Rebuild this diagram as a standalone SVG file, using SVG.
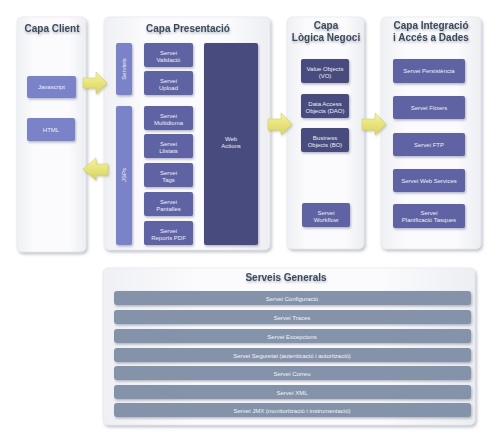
<svg xmlns="http://www.w3.org/2000/svg" width="500" height="447" viewBox="0 0 500 447">
<style>
.title{font-family:"Liberation Sans",Arial,sans-serif;font-weight:bold;font-size:10px;fill:#3b4a5c;text-anchor:middle;filter:url(#tshadow)}
.lbl{font-family:"Liberation Sans",Arial,sans-serif;font-size:6px;fill:#eceef8;text-anchor:middle}
.gl{font-family:"Liberation Sans",Arial,sans-serif;font-size:6px;fill:#f2f4f8;text-anchor:middle}
.panel{fill:url(#panelGrad);stroke:#e4e6ec;stroke-width:0.6;filter:url(#pshadow)}
.light{fill:#7a82c8;filter:url(#bshadow)}
.mid{fill:#5e64a3;filter:url(#bshadow)}
.dark{fill:#464b7d;filter:url(#bshadow)}
.bar{fill:#8593aa;filter:url(#bshadow)}
.arrow{fill:url(#yellow);stroke:#cfcb5c;stroke-width:0.5;filter:url(#ashadow)}
</style>
<defs>
<linearGradient id="panelGrad" x1="0" y1="0" x2="1" y2="0">
<stop offset="0" stop-color="#eff0f4"/>
<stop offset="0.25" stop-color="#fbfbfd"/>
<stop offset="0.75" stop-color="#fbfbfd"/>
<stop offset="1" stop-color="#eceef2"/>
</linearGradient>
<linearGradient id="yellow" x1="0" y1="0" x2="0" y2="1">
<stop offset="0" stop-color="#f4f2a6"/>
<stop offset="0.5" stop-color="#e8e47a"/>
<stop offset="1" stop-color="#d6d266"/>
</linearGradient>
<filter id="pshadow" x="-10%" y="-10%" width="130%" height="130%">
<feDropShadow dx="1.5" dy="2" stdDeviation="1.5" flood-color="#8a90a0" flood-opacity="0.55"/>
</filter>
<filter id="bshadow" x="-10%" y="-20%" width="130%" height="150%">
<feDropShadow dx="1" dy="1.5" stdDeviation="1" flood-color="#6a7088" flood-opacity="0.5"/>
</filter>
<filter id="ashadow" x="-20%" y="-20%" width="150%" height="150%">
<feDropShadow dx="1" dy="1.5" stdDeviation="1" flood-color="#9a9a70" flood-opacity="0.5"/>
</filter>
<filter id="tshadow" x="-10%" y="-30%" width="120%" height="180%">
<feDropShadow dx="0.5" dy="1.5" stdDeviation="1.2" flood-color="#7a8090" flood-opacity="0.6"/>
</filter>
</defs>

<g id="panel-client">
<rect class="panel" x="17" y="17" width="69" height="235" rx="5"/>
<text class="title" x="52" y="32">Capa Client</text>
</g>
<g id="panel-presentacio">
<rect class="panel" x="104" y="17" width="166" height="233" rx="5"/>
<text class="title" x="188" y="32">Capa Presentació</text>
</g>
<g id="panel-logica">
<rect class="panel" x="287" y="17" width="77" height="232" rx="5"/>
<text class="title" x="326" y="29">Capa</text>
<text class="title" x="326" y="41">Lògica Negoci</text>
</g>
<g id="panel-integracio">
<rect class="panel" x="381" y="17" width="100" height="232" rx="5"/>
<text class="title" x="431" y="29">Capa Integració</text>
<text class="title" x="431" y="41">i Accés a Dades</text>
</g>
<g id="panel-generals">
<rect class="panel" x="103" y="268" width="372" height="157" rx="5"/>
<text class="title" x="286" y="281">Serveis Generals</text>
</g>

<g id="javascript"><rect class="light" x="27" y="76" width="49" height="22" rx="2"/><text class="lbl" x="51.5" y="89">Javascript</text></g>
<g id="html"><rect class="light" x="27" y="118" width="48" height="23" rx="2"/><text class="lbl" x="51" y="131.5">HTML</text></g>

<g id="servlets"><rect class="light" x="116" y="43" width="16" height="52" rx="2"/><text class="lbl" transform="translate(126,69) rotate(-90)" x="0" y="0">Servlets</text></g>
<g id="jsps"><rect class="light" x="116" y="106" width="16" height="139" rx="2"/><text class="lbl" transform="translate(126,175) rotate(-90)" x="0" y="0">JSPs</text></g>

<g id="servei-validacio"><rect class="mid" x="144" y="43" width="49" height="24" rx="2"/><text class="lbl" x="168.5" y="54.5">Servei</text><text class="lbl" x="168.5" y="61.5">Validació</text></g>
<g id="servei-upload"><rect class="mid" x="144" y="71" width="49" height="24" rx="2"/><text class="lbl" x="168.5" y="82.5">Servei</text><text class="lbl" x="168.5" y="89.5">Upload</text></g>
<g id="servei-multidioma"><rect class="mid" x="144" y="106" width="49" height="24" rx="2"/><text class="lbl" x="168.5" y="117.5">Servei</text><text class="lbl" x="168.5" y="124.5">Multidioma</text></g>
<g id="servei-llistats"><rect class="mid" x="144" y="134" width="49" height="24" rx="2"/><text class="lbl" x="168.5" y="145.5">Servei</text><text class="lbl" x="168.5" y="152.5">Llistats</text></g>
<g id="servei-tags"><rect class="mid" x="144" y="163" width="49" height="24" rx="2"/><text class="lbl" x="168.5" y="174.5">Servei</text><text class="lbl" x="168.5" y="181.5">Tags</text></g>
<g id="servei-pantalles"><rect class="mid" x="144" y="192" width="49" height="24" rx="2"/><text class="lbl" x="168.5" y="203.5">Servei</text><text class="lbl" x="168.5" y="210.5">Pantalles</text></g>
<g id="servei-reports"><rect class="mid" x="144" y="221" width="49" height="24" rx="2"/><text class="lbl" x="168.5" y="232.5">Servei</text><text class="lbl" x="168.5" y="239.5">Reports PDF</text></g>

<g id="web-actions"><rect class="dark" x="204" y="43" width="54" height="202" rx="2"/><text class="lbl" x="231" y="141">Web</text><text class="lbl" x="231" y="148">Actions</text></g>

<g id="value-objects"><rect class="dark" x="301" y="59" width="48" height="24" rx="2"/><text class="lbl" x="325" y="70.5">Value Objects</text><text class="lbl" x="325" y="77.5">(VO)</text></g>
<g id="dao"><rect class="dark" x="301" y="94" width="48" height="24" rx="2"/><text class="lbl" x="325" y="105.5">Data Access</text><text class="lbl" x="325" y="112.5">Objects (DAO)</text></g>
<g id="business-objects"><rect class="dark" x="301" y="128" width="48" height="24" rx="2"/><text class="lbl" x="325" y="139.5">Business</text><text class="lbl" x="325" y="146.5">Objects (BO)</text></g>
<g id="servei-workflow"><rect class="mid" x="302" y="203" width="48" height="24" rx="2"/><text class="lbl" x="326" y="214.5">Servei</text><text class="lbl" x="326" y="221.5">Workflow</text></g>

<g id="servei-persistencia"><rect class="mid" x="393" y="59" width="72" height="24" rx="2"/><text class="lbl" x="429" y="73">Servei Persistència</text></g>
<g id="servei-fitxers"><rect class="mid" x="393" y="96" width="72" height="23" rx="2"/><text class="lbl" x="429" y="109.5">Servei Fitxers</text></g>
<g id="servei-ftp"><rect class="mid" x="393" y="133" width="72" height="23" rx="2"/><text class="lbl" x="429" y="146.5">Servei FTP</text></g>
<g id="servei-web-services"><rect class="mid" x="393" y="169" width="72" height="23" rx="2"/><text class="lbl" x="429" y="182.5">Servei Web Services</text></g>
<g id="servei-planificacio"><rect class="mid" x="393" y="204" width="72" height="24" rx="2"/><text class="lbl" x="429" y="215">Servei</text><text class="lbl" x="429" y="222">Planificació Tasques</text></g>

<g id="gen-configuracio"><rect class="bar" x="114" y="291" width="357" height="14" rx="3"/><text class="gl" x="292" y="300.5">Servei Configuració</text></g>
<g id="gen-traces"><rect class="bar" x="114" y="310" width="357" height="14" rx="3"/><text class="gl" x="292" y="319.5">Servei Traces</text></g>
<g id="gen-excepcions"><rect class="bar" x="114" y="329" width="357" height="14" rx="3"/><text class="gl" x="292" y="338.5">Servei Excepcions</text></g>
<g id="gen-seguretat"><rect class="bar" x="114" y="348" width="357" height="14" rx="3"/><text class="gl" x="292" y="357.5">Servei Seguretat (autenticació i autorització)</text></g>
<g id="gen-correu"><rect class="bar" x="114" y="366" width="357" height="14" rx="3"/><text class="gl" x="292" y="375.5">Servei Correu</text></g>
<g id="gen-xml"><rect class="bar" x="114" y="385" width="357" height="14" rx="3"/><text class="gl" x="292" y="394.5">Servei XML</text></g>
<g id="gen-jmx"><rect class="bar" x="114" y="403" width="357" height="14" rx="3"/><text class="gl" x="292" y="412.5">Servei JMX (monitorització i instrumentació)</text></g>

<g id="connectors">
<polygon class="arrow" points="83,78 96,78 96,72 107,83 96,94 96,88 83,88"/>
<polygon class="arrow" points="108,164 96,164 96,158 83,169 96,180 96,175 108,175"/>
<polygon class="arrow" points="268,119 281,119 281,113 292,124 281,135 281,130 268,130"/>
<polygon class="arrow" points="362,119 375,119 375,113 386,124 375,135 375,130 362,130"/>
</g>
</svg>
